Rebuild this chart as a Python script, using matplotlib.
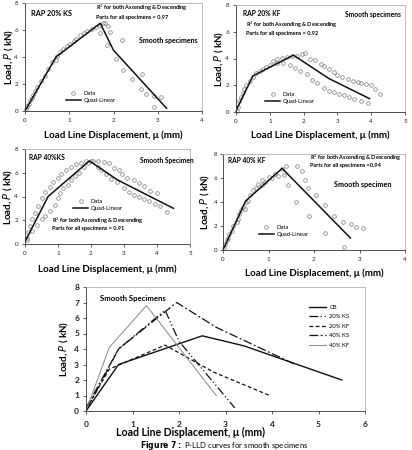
import matplotlib
matplotlib.use('Agg')
import matplotlib.pyplot as plt

plt.rcParams['font.family'] = ['Lato', 'DejaVu Sans']

# --- test data (circles) ---
ks20_x = [0.02, 0.04, 0.08, 0.11, 0.15, 0.19, 0.23, 0.28, 0.36, 0.45, 0.53, 0.62, 0.70, 0.72, 0.80,
          0.87, 0.95, 1.02, 1.10, 1.16, 1.25, 1.33, 1.39, 1.52, 1.61, 1.69, 1.77, 1.80, 1.70, 1.87,
          1.92, 1.86, 2.05, 2.20, 2.22, 2.42, 2.65, 2.63, 2.74, 2.92, 2.91, 3.08]
ks20_y = [0.15, 0.35, 0.55, 0.80, 1.00, 1.20, 1.45, 1.75, 2.20, 2.60, 3.10, 3.60, 3.80, 4.10, 4.40,
          4.60, 4.80, 5.00, 5.20, 5.30, 5.60, 5.75, 5.90, 6.10, 6.25, 6.40, 6.50, 6.55, 5.80, 6.30,
          5.85, 4.90, 3.85, 5.25, 3.05, 2.35, 2.75, 1.60, 1.24, 1.10, 0.32, 1.06]

kf20_x = [0.02, 0.05, 0.10, 0.15, 0.20, 0.25, 0.30, 0.40, 0.50, 0.60, 0.70, 0.80, 0.90, 1.00, 1.10,
          1.20, 1.35, 1.50, 1.65, 1.80, 1.95, 2.05, 2.20, 2.35, 2.50, 2.60, 2.75, 2.90, 3.00, 3.15,
          3.30, 3.45, 3.60, 3.70, 3.85, 4.00, 4.10, 4.25, 1.20, 1.40, 1.60, 1.75, 1.90, 2.10, 2.25,
          2.40, 2.60, 2.75, 2.90, 3.05, 3.20, 3.35, 3.50, 3.70, 3.90]
kf20_y = [0.10, 0.40, 0.80, 1.10, 1.40, 1.70, 2.00, 2.30, 2.60, 2.90, 3.10, 3.25, 3.40, 3.55, 3.80,
          3.95, 4.05, 4.10, 4.20, 4.20, 4.35, 4.40, 4.00, 3.90, 3.60, 3.45, 3.20, 3.00, 2.80, 2.65,
          2.45, 2.30, 2.25, 2.20, 2.10, 2.00, 1.75, 1.35, 3.70, 3.65, 3.50, 3.30, 3.10, 2.85, 2.40,
          2.15, 1.80, 1.55, 1.50, 1.35, 1.25, 1.15, 1.00, 0.80, 0.65]

ks40_x = [0.05, 0.10, 0.15, 0.20, 0.30, 0.40, 0.50, 0.60, 0.75, 0.85, 1.00, 1.10, 1.25, 1.40, 1.55,
          1.70, 1.85, 2.00, 0.05, 0.20, 0.35, 0.50, 0.60, 0.75, 0.90, 1.00, 1.05, 1.15, 1.30, 1.40,
          1.50, 1.65, 1.80, 1.90, 2.05, 2.20, 2.40, 2.55, 2.70, 2.85, 2.95, 3.10, 3.30, 3.45, 3.60,
          3.80, 4.00, 2.20, 2.30, 2.45, 2.60, 2.80, 3.00, 3.15, 3.30, 3.45, 3.60, 3.75, 3.95, 4.10,
          4.30]
ks40_y = [0.50, 1.00, 1.50, 2.10, 2.60, 3.20, 3.90, 4.40, 4.80, 5.20, 5.60, 5.90, 6.20, 6.50, 6.75,
          6.85, 6.95, 7.00, 0.30, 1.10, 1.60, 2.10, 2.40, 2.80, 3.30, 3.90, 4.30, 4.70, 5.00, 5.40,
          5.70, 6.00, 6.50, 6.80, 7.00, 6.95, 6.90, 6.85, 6.40, 6.20, 5.90, 5.60, 5.35, 5.10, 4.90,
          4.45, 4.30, 6.50, 6.20, 5.90, 5.50, 5.20, 4.70, 4.40, 4.15, 4.00, 3.80, 3.60, 3.40, 3.20,
          2.70]

kf40_x = [0.02, 0.05, 0.08, 0.10, 0.13, 0.20, 0.22, 0.30, 0.32, 0.35, 0.40, 0.43, 0.48, 0.50, 0.55,
          0.60, 0.65, 0.72, 0.78, 0.85, 0.85, 0.92, 1.00, 1.07, 1.15, 1.20, 1.30, 1.35, 1.39, 1.42,
          1.62, 1.74, 1.80, 1.87, 1.60, 1.88, 2.04, 2.25, 2.25, 2.45, 2.63, 2.65, 2.81, 2.93, 3.07]
kf40_y = [0.20, 0.50, 0.80, 1.00, 1.30, 1.60, 2.00, 2.30, 2.60, 3.00, 3.30, 3.60, 3.40, 4.00, 4.10,
          4.60, 5.00, 5.20, 5.50, 5.40, 5.80, 5.70, 6.10, 6.00, 6.30, 6.20, 6.75, 6.27, 6.96, 5.40,
          7.00, 6.60, 5.85, 5.15, 4.00, 2.85, 4.60, 3.75, 1.45, 2.80, 2.35, 0.22, 2.15, 1.95, 1.80]

# --- quad-linear fits ---
cb_fit_x = [0, 0.7, 2.5, 3.4, 5.5]
cb_fit_y = [0, 3.0, 4.85, 4.2, 2.0]
ks20_fit_x = [0, 0.7, 1.7, 2.0, 3.2]
ks20_fit_y = [0, 4.0, 6.5, 4.5, 0.2]
kf20_fit_x = [0, 0.5, 1.7, 2.75, 3.95]
kf20_fit_y = [0.1, 2.7, 4.25, 2.5, 1.0]
ks40_fit_x = [0, 0.7, 1.95, 2.8, 4.5]
ks40_fit_y = [0.2, 4.0, 7.0, 5.4, 3.0]
kf40_fit_x = [0, 0.5, 1.3, 2.8]
kf40_fit_y = [0, 4.1, 6.8, 1.0]

W, H = 412, 450
fig = plt.figure(figsize=(W / 100, H / 100), dpi=100)

XLAB = 'Load Line Displacement, \u03bc (mm)'
YLAB = 'Load, $P$ ( kN)'


def make_axes(x0, x1, ytop, ybot):
    ax = fig.add_axes([x0 / W, 1 - ybot / H, (x1 - x0) / W, (ybot - ytop) / H])
    for s in ax.spines.values():
        s.set_color('#b0b0b0')
        s.set_linewidth(0.6)
    ax.spines['left'].set_color('#333333')
    ax.spines['bottom'].set_color('#333333')
    ax.tick_params(labelsize=4.5, length=2, width=0.5, pad=3, colors='#222222')
    return ax


def px(x, y):
    return x / W, 1 - y / H


def small_panel(ax, xmax, data_x, data_y, fit_x, fit_y, xlab_y, ylab_x):
    ax.plot(data_x, data_y, 'o', mfc='none', mec='#777777', ms=2.6, mew=0.5,
            label='Data', clip_on=False)
    ax.plot(fit_x, fit_y, '-', color='#111111', lw=1.1, label='Quad-Linear')
    ax.set_xlim(0, xmax)
    ax.set_ylim(0, 8)
    ax.set_xticks(range(0, xmax + 1))
    ax.set_yticks([0, 2, 4, 6, 8])
    bb = ax.get_position()
    fig.text((bb.x0 + bb.x1) / 2, 1 - xlab_y / H, XLAB, ha='center', va='center',
             fontsize=7, fontweight='bold')
    fig.text(ylab_x / W, (bb.y0 + bb.y1) / 2, YLAB, ha='center', va='center',
             rotation=90, fontsize=7, fontweight='bold')


def legend_at(ax, x, y):
    leg = ax.legend(loc='upper left', bbox_to_anchor=px(x, y), bbox_transform=fig.transFigure,
                    frameon=False, fontsize=4.2, handlelength=2.6, handletextpad=0.4,
                    labelspacing=0.35, borderpad=0)
    return leg


def note(x, y, s, size=4.6, bold=True):
    fig.text(x / W, 1 - y / H, s, fontsize=size, fontweight='bold' if bold else 'normal',
             va='center', ha='left')


# panel 1 - RAP 20% KS
ax1 = make_axes(25, 202, 3, 111)
small_panel(ax1, 4, ks20_x, ks20_y, ks20_fit_x, ks20_fit_y, 135, 9)
legend_at(ax1, 63, 88)
note(31, 13, 'RAP 20% KS', 5.2)
note(96, 8, 'R$^2$ for both Ascending & Descending', 4.0)
note(96, 17, 'Parts for all specimens = 0.97', 4.0)
note(139, 41, 'Smooth specimens', 5.0)

# panel 2 - RAP 20% KF
ax2 = make_axes(236, 405, 5, 112)
small_panel(ax2, 5, kf20_x, kf20_y, kf20_fit_x, kf20_fit_y, 135, 219)
legend_at(ax2, 262, 89)
note(243, 14, 'RAP 20% KF', 4.8)
note(345, 14, 'Smooth specimens', 4.8)
note(246, 25, 'R$^2$ for both Ascending & Descending', 4.0)
note(246, 34, 'Parts for all specimens = 0.92', 4.0)

# panel 3 - RAP 40% KS
ax3 = make_axes(25, 190, 149, 244)
small_panel(ax3, 5, ks40_x, ks40_y, ks40_fit_x, ks40_fit_y, 269, 8)
legend_at(ax3, 70, 196)
note(29, 157, 'RAP 40%KS', 4.8)
note(140, 160, 'Smooth Specimen', 4.8)
note(52, 221, 'R$^2$ for both Ascending & Descending', 4.0)
note(52, 229, 'Parts for all specimens = 0.91', 4.0)

# panel 4 - RAP 40% KF
ax4 = make_axes(223, 405, 154, 250)
small_panel(ax4, 4, kf40_x, kf40_y, kf40_fit_x, kf40_fit_y, 273, 205)
ax4.tick_params(axis='y', pad=2)
legend_at(ax4, 256, 222)
note(228, 160, 'RAP 40% KF', 4.8)
note(310, 158, 'R$^2$ for both Ascending & Descending', 4.0)
note(310, 166, 'Parts for all specimens =0.94', 4.0)
note(334, 185, 'Smooth specimen', 5.2)

# panel 5 - all smooth specimens
ax5 = make_axes(86, 365, 287, 411)
ax5.plot(cb_fit_x, cb_fit_y, '-', color='#111111', lw=1.0, label='CB')
ax5.plot(ks20_fit_x, ks20_fit_y, color='#111111', lw=0.9, dashes=(7, 2, 1, 2, 1, 2), label='20% KS')
ax5.plot(kf20_fit_x, kf20_fit_y, color='#111111', lw=0.9, dashes=(3, 2), label='20% KF')
ax5.plot(ks40_fit_x, ks40_fit_y, color='#111111', lw=0.9, dashes=(7, 2, 1.5, 2), label='40% KS')
ax5.plot(kf40_fit_x, kf40_fit_y, '-', color='#888888', lw=0.7, label='40% KF')
ax5.set_xlim(0, 6)
ax5.set_ylim(0, 8)
ax5.set_xticks(range(0, 7))
ax5.set_yticks(range(0, 9))
ax5.tick_params(axis='x', labelsize=6, pad=5)
ax5.tick_params(axis='y', labelsize=6, pad=3)
for lbl in ax5.get_xticklabels() + ax5.get_yticklabels():
    lbl.set_fontweight('bold')
ax5.spines['top'].set_color('#b0b0b0')
ax5.spines['right'].set_color('#b0b0b0')
ax5.legend(loc='upper left', bbox_to_anchor=px(306, 302), bbox_transform=fig.transFigure,
           frameon=False, fontsize=4.2, handlelength=3.0, handletextpad=0.5,
           labelspacing=0.75, borderpad=0)
note(100, 298, 'Smooth Specimens', 5.6)
fig.text(191 / W, 1 - 432 / H, XLAB, ha='center', va='center',
         fontsize=7.6, fontweight='bold')
fig.text(64 / W, 1 - 349 / H, YLAB, ha='center', va='center', rotation=90,
         fontsize=7, fontweight='bold')

# caption at the bottom edge of the page scan
fig.text(224 / W, 1 - 445 / H, r'$\bf{Figure\ 7:}$ P-LLD curves for smooth specimens',
         ha='center', va='center', fontsize=5.6)

fig.savefig('out.png', dpi=100)
